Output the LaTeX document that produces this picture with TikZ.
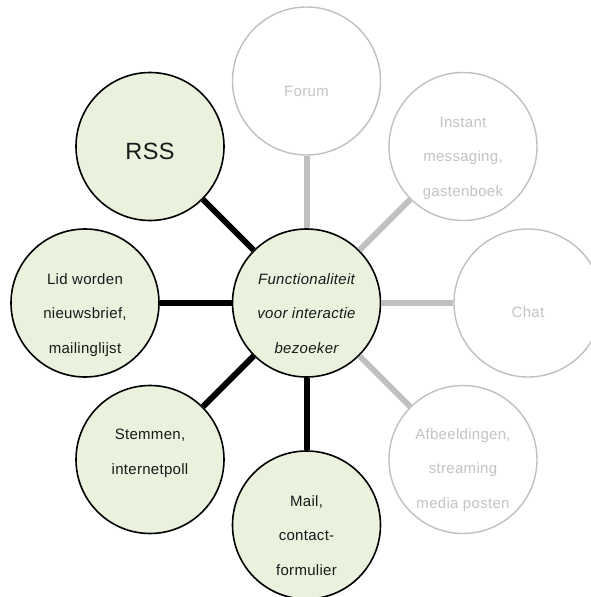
\documentclass[tikz,border=0pt]{standalone}
\usepackage{fontspec}
\setmainfont{Liberation Sans}[LetterSpace=2]
\definecolor{leaf}{HTML}{EAF1DD}
\definecolor{ink}{HTML}{1A1A1A}
\definecolor{pale}{HTML}{C0C0C0}
\definecolor{paletext}{HTML}{C4C4C4}
\tikzset{
  bubble/.style={circle, minimum size=148pt, inner sep=0pt},
  active/.style={bubble, draw=black, line width=1.6pt, fill=leaf},
  passive/.style={bubble, draw=pale, line width=1.4pt, fill=white},
  strongline/.style={draw=black, line width=6pt},
  weakline/.style={draw=pale, line width=6pt},
  txt/.style={align=center, text=ink, font=\fontsize{15}{34.5}\selectfont, inner sep=0pt},
  paletxt/.style={txt, text=paletext},
}
\begin{document}
\begin{tikzpicture}[x=1pt,y=-1pt]
\useasboundingbox (0,0) rectangle (590,597);
% circles
\node[active]  (c)     at (306.5,303) {};
\node[passive] (forum) at (306.5,81) {};
\node[passive] (im)    at (463,146.5) {};
\node[passive] (chat)  at (528,303) {};
\node[passive] (afb)   at (463,459.5) {};
\node[active]  (mail)  at (306.5,525) {};
\node[active]  (stem)  at (150,459.5) {};
\node[active]  (lid)   at (85,303) {};
\node[active]  (rss)   at (150,146.5) {};
% connectors
\draw[strongline] (c) -- (rss);
\draw[strongline] (c) -- (lid);
\draw[strongline] (c) -- (stem);
\draw[strongline] (c) -- (mail);
\draw[weakline] (c) -- (forum);
\draw[weakline] (c) -- (im);
\draw[weakline] (c) -- (chat);
\draw[weakline] (c) -- (afb);
% texts
\node[txt, font=\itshape\fontsize{15}{34.5}\selectfont] (tc) at (306.5,313.5) {Functionaliteit\\voor interactie\\bezoeker};
\node[paletxt] (tforum) at (306.5,91.5) {Forum};
\node[paletxt] (tim) at (463,158) {Instant\\messaging,\\gastenboek};
\node[paletxt] (tchat) at (528,312.5) {Chat};
\node[paletxt] (tafb) at (463,470) {Afbeeldingen,\\streaming\\media posten};
\node[txt] (tmail) at (306.5,535.5) {Mail,\\contact-\\formulier};
\node[txt] (tstem) at (150,453.5) {Stemmen,\\internetpoll};
\node[txt] (tlid) at (85,315) {Lid worden\\nieuwsbrief,\\mailinglijst};
\node[txt, font=\fontsize{23.5}{28}\selectfont] (trss) at (150,151.5) {RSS};
\end{tikzpicture}
\end{document}
